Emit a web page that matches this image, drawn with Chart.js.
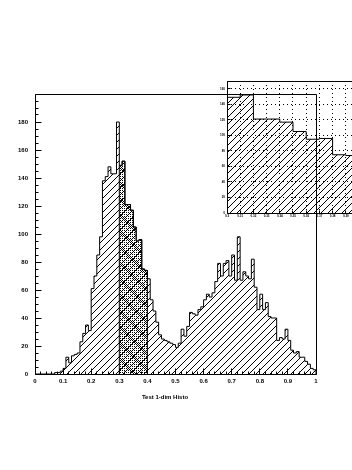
<!DOCTYPE html>
<html><head><meta charset="utf-8">
<script src="https://cdn.jsdelivr.net/npm/chart.js@4.4.0/dist/chart.umd.min.js"></script>
<style>
html,body{margin:0;padding:0;background:#fff;overflow:hidden;width:352px;height:470px;}
#main{position:absolute;left:0;top:0;}
#inset{position:absolute;left:205px;top:70px;}
</style></head><body>
<canvas id="main" width="352" height="470"></canvas>
<canvas id="inset" width="175" height="165"></canvas>
<script>
// ---------------- data ----------------
const histTitle = 'Test 1-dim Histo';
const binLow = 0, binHigh = 1;
const counts = [
  0,0,0,0,0,0,0,1,1,2,
  4,12,8,13,14,15,23,29,35,31,
  61,70,85,98,138,141,148,143,143,180,
  149,152,121,121,117,105,95,96,75,74,
  68,53,45,37,28,25,24,23,22,21,
  19,22,32,27,34,44,43,42,46,48,
  53,57,55,58,66,79,70,79,81,70,
  85,67,98,67,73,70,68,82,62,46,
  57,46,51,41,40,40,24,26,25,32,
  24,17,15,16,12,12,9,7,4,3
];
const highlightRange = [0.3, 0.4];
const xTickLabels = ['0','0.1','0.2','0.3','0.4','0.5','0.6','0.7','0.8','0.9','1'];
const yTickLabels = ['0','20','40','60','80','100','120','140','160','180'];
const mainYMax = 200;
const insetXRange = [0.3, 0.4];
const insetYMax = 170;
const insetXTickLabels = ['0.3','0.31','0.32','0.33','0.34','0.35','0.36','0.37','0.38','0.39','0.4'];
const insetYTickLabels = ['0','20','40','60','80','100','120','140','160'];

// ---------------- helpers ----------------
const nBins = counts.length;
const binW = (binHigh - binLow) / nBins;
function histPoints(from, to) {
  const i0 = Math.round((from - binLow) / binW), i1 = Math.round((to - binLow) / binW);
  const pts = [{x: binLow + i0 * binW, y: 0}];
  for (let i = i0; i < i1; i++) pts.push({x: binLow + i * binW, y: counts[i]});
  pts.push({x: binLow + i1 * binW, y: counts[i1 - 1]});
  pts.push({x: binLow + i1 * binW, y: 0});
  return pts;
}
function makePattern(ctx, size, fn) {
  const c = document.createElement('canvas'); c.width = size; c.height = size;
  const g = c.getContext('2d'); g.fillStyle = '#000';
  for (let y = 0; y < size; y++) for (let x = 0; x < size; x++) if (fn(x, y)) g.fillRect(x, y, 1, 1);
  return ctx.createPattern(c, 'repeat');
}
const hatchFn = (x, y) => (x + y) % 7 === 6;
const crossFn = (x, y) => ((x + y) % 2 === 0) && (y % 2 === 0 || (x - y + 64) % 16 < 3);

const FONT = '"Liberation Sans", Arial, sans-serif';
const px = v => Math.floor(v) + 0.5;

// ---------------- main chart ----------------
const mainCtx = document.getElementById('main').getContext('2d');
const mainDecor = {
  id: 'mainDecor',
  afterDraw(chart) {
    const {ctx, chartArea: a, scales: {x, y}} = chart;
    ctx.save();
    ctx.strokeStyle = '#000'; ctx.lineWidth = 1;
    ctx.beginPath();
    ctx.moveTo(px(a.left), px(a.top)); ctx.lineTo(px(a.right), px(a.top));
    ctx.lineTo(px(a.right), px(a.bottom)); ctx.lineTo(px(a.left), px(a.bottom));
    ctx.closePath(); ctx.stroke();
    ctx.beginPath();
    for (let v = 0; v <= mainYMax; v += 5) {
      const yy = px(y.getPixelForValue(v));
      const len = v % 20 === 0 ? 6 : 3;
      ctx.moveTo(px(a.left), yy); ctx.lineTo(px(a.left) + len, yy);
    }
    for (let k = 0; k <= 50; k++) {
      const xx = px(x.getPixelForValue(binLow + k * 0.02));
      const len = k % 5 === 0 ? 6 : 3;
      ctx.moveTo(xx, px(a.bottom)); ctx.lineTo(xx, px(a.bottom) - len);
    }
    ctx.stroke();
    ctx.fillStyle = '#000';
    ctx.font = 'bold 6px ' + FONT;
    ctx.textAlign = 'right'; ctx.textBaseline = 'middle';
    yTickLabels.forEach(l => ctx.fillText(l, a.left - 7, y.getPixelForValue(Number(l))));
    ctx.textAlign = 'center'; ctx.textBaseline = 'top';
    xTickLabels.forEach(l => ctx.fillText(l, x.getPixelForValue(Number(l)), a.bottom + 4));
    ctx.textBaseline = 'middle';
    ctx.fillText(histTitle, 165, 397);
    ctx.restore();
  }
};
new Chart(mainCtx, {
  type: 'line',
  data: {datasets: [
    {data: histPoints(highlightRange[0], highlightRange[1]), stepped: true, borderColor: '#000', borderWidth: 1,
     backgroundColor: makePattern(mainCtx, 16, crossFn), fill: 'origin', pointRadius: 0, order: 0},
    {data: histPoints(binLow, binHigh), stepped: true, borderColor: '#000', borderWidth: 1,
     backgroundColor: makePattern(mainCtx, 7, hatchFn), fill: 'origin', pointRadius: 0, order: 1}
  ]},
  options: {
    responsive: false, animation: false, devicePixelRatio: 1,
    layout: {padding: {left: 35, right: 36, top: 94, bottom: 96}},
    scales: {x: {type: 'linear', min: binLow, max: binHigh, display: false},
             y: {type: 'linear', min: 0, max: mainYMax, display: false}},
    plugins: {legend: {display: false}, tooltip: {enabled: false}},
    elements: {line: {tension: 0}}
  },
  plugins: [mainDecor]
});

// ---------------- inset chart ----------------
const insetCtx = document.getElementById('inset').getContext('2d');
const insetDecor = {
  id: 'insetDecor',
  afterDatasetsDraw(chart) {
    const {ctx, chartArea: a, scales: {x, y}} = chart;
    ctx.save();
    ctx.strokeStyle = '#000'; ctx.lineWidth = 1; ctx.setLineDash([1, 3]);
    ctx.beginPath();
    insetXTickLabels.forEach(l => {
      const v = Number(l); if (v <= insetXRange[0]) return;
      const xx = px(x.getPixelForValue(v)); ctx.moveTo(xx, a.top); ctx.lineTo(xx, a.bottom);
    });
    insetYTickLabels.forEach(l => {
      const v = Number(l); if (v <= 0) return;
      const yy = px(y.getPixelForValue(v)); ctx.moveTo(a.left, yy); ctx.lineTo(a.right, yy);
    });
    ctx.stroke();
    ctx.restore();
  },
  afterDraw(chart) {
    const {ctx, chartArea: a, scales: {x, y}} = chart;
    ctx.save();
    ctx.strokeStyle = '#000'; ctx.lineWidth = 1;
    ctx.beginPath();
    ctx.moveTo(px(a.right), px(a.top)); ctx.lineTo(px(a.left), px(a.top));
    ctx.lineTo(px(a.left), px(a.bottom)); ctx.lineTo(px(a.right), px(a.bottom));
    insetYTickLabels.forEach(l => {
      const yy = px(y.getPixelForValue(Number(l)));
      ctx.moveTo(px(a.left), yy); ctx.lineTo(px(a.left) + 3, yy);
    });
    insetXTickLabels.forEach(l => {
      const xx = px(x.getPixelForValue(Number(l)));
      ctx.moveTo(xx, px(a.bottom)); ctx.lineTo(xx, px(a.bottom) - 3);
    });
    ctx.stroke();
    ctx.fillStyle = '#000';
    ctx.font = 'bold 3px ' + FONT;
    ctx.textAlign = 'right'; ctx.textBaseline = 'middle';
    insetYTickLabels.forEach(l => ctx.fillText(l, a.left - 2, y.getPixelForValue(Number(l))));
    ctx.textAlign = 'center'; ctx.textBaseline = 'top';
    insetXTickLabels.forEach(l => ctx.fillText(l, x.getPixelForValue(Number(l)), a.bottom + 2));
    ctx.restore();
  }
};
new Chart(insetCtx, {
  type: 'line',
  data: {datasets: [
    {data: histPoints(binLow, binHigh), stepped: true, borderColor: '#000', borderWidth: 1,
     backgroundColor: makePattern(insetCtx, 7, hatchFn), fill: 'origin', pointRadius: 0}
  ]},
  options: {
    responsive: false, animation: false, devicePixelRatio: 1,
    layout: {padding: {left: 22, right: 21, top: 11, bottom: 22}},
    scales: {x: {type: 'linear', min: insetXRange[0], max: insetXRange[1], display: false},
             y: {type: 'linear', min: 0, max: insetYMax, display: false}},
    plugins: {legend: {display: false}, tooltip: {enabled: false}},
    elements: {line: {tension: 0}}
  },
  plugins: [insetDecor]
});
</script>
</body></html>
